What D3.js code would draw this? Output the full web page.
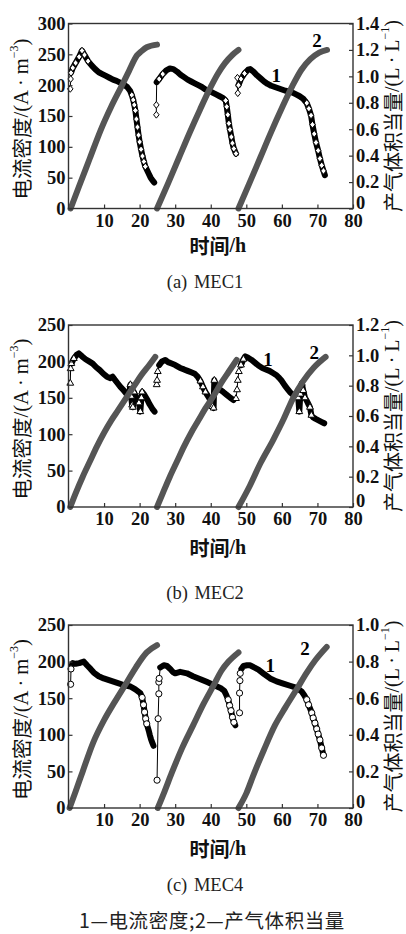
<!DOCTYPE html>
<html><head><meta charset="utf-8">
<script src="https://cdn.jsdelivr.net/npm/d3@7"></script>
<style>body{margin:0;background:#fff}svg{display:block}</style>
</head><body><svg id="c" width="406" height="934"></svg>
<script>
// ---------------- DATA ----------------
const xTicks = [10,20,30,40,50,60,70,80];
const mec1LeftTicks = [0,50,100,150,200,250,300];
const mec1RightTicks = [0,0.2,0.4,0.6,0.8,1.0,1.2,1.4];
const mec2LeftTicks = [0,50,100,150,200,250];
const mec2RightTicks = [0,0.2,0.4,0.6,0.8,1.0,1.2];
const mec4LeftTicks = [0,50,100,150,200,250];
const mec4RightTicks = [0,0.2,0.4,0.6,0.8,1.0];

// current density (A·m^-3), one array of [time h, value] per cycle
const mec1Current = [
 [[0.5,194],[0.6,210],[0.7,220],[1.2,228],[2,236],[3,246],[3.8,256],[4.5,249],[5.5,239],[6.5,232],[7.5,226],[8.5,221],[9.5,218],[10.5,215],[11.5,212],[12.5,209],[13.5,207],[14.5,204],[15.5,201],[16.5,197],[17.3,191],[17.8,184],[18.2,176],[18.5,168],[18.8,159],[19.1,145],[19.4,132],[19.7,119],[20.0,108],[20.4,96],[20.8,85],[21.2,76],[21.6,68],[22.1,62],[22.6,56],[23.1,50],[23.6,46],[24.1,42]],
 [[24.7,152],[24.7,168],[24.8,205],[25.5,210],[26.5,218],[27.5,224],[28.5,227],[29.5,226],[30.5,222],[31.5,217],[32.5,213],[33.5,209],[34.5,206],[35.5,203],[36.5,200],[37.5,197],[38.5,193],[39.5,191],[40.5,188],[41.5,185],[42.5,182],[43.5,179],[44.2,175],[44.5,165],[44.8,152],[45.1,138],[45.4,128],[45.8,116],[46.1,106],[46.5,97],[47.1,89]],
 [[47.5,212],[47.6,187],[47.8,200],[48.5,210],[49.5,219],[50.5,225],[51.1,226],[52,222],[53,216],[54,211],[55,206],[56,202],[57,199],[58,197],[59,195],[60,193],[61,191],[62,190],[63,188],[64,185],[65,182],[66,178],[67,171],[67.6,162],[68.2,151],[68.6,136],[69.1,121],[69.6,107],[70.2,94],[70.7,81],[71.2,70],[71.7,61],[72.1,54]]
];
const mec1Lead = [2,2,2];
const mec2Current = [
 [[0.5,170],[0.6,190],[0.8,197],[1.5,204],[2.3,209],[2.9,211],[3.8,207],[4.8,203],[5.8,200],[6.8,197],[7.8,192],[8.8,188],[9.8,183],[10.8,179],[11.8,177],[12.4,179],[13,175],[13.8,170],[14.6,165],[15.4,161],[16.2,156],[16.8,152],[17.2,160],[17.4,168],[17.6,152],[17.9,140],[18.1,137],[18.4,158],[18.8,153],[19.3,148],[19.8,143],[20.2,131],[20.5,150],[20.7,158],[21.2,155],[21.7,151],[22.2,147],[22.7,142],[23.2,138],[23.7,134],[24.2,131]],
 [[24.8,168],[24.9,174],[25.1,186],[25.5,195],[26.3,200],[27.2,202],[28,199],[29,197],[30,195],[31.4,191],[32.5,189],[33.5,187],[34.5,185],[35.5,183],[36.3,179],[37.1,173],[37.8,165],[38.5,158],[39,154],[39.5,150],[40,145],[40.5,138],[40.8,136],[41,174],[41.3,168],[42,164],[42.7,161],[43.5,158],[44.5,154],[45.5,150],[46.4,147]],
 [[47.1,149],[47.4,161],[47.6,174],[47.9,186],[48.5,195],[49.2,203],[49.7,207],[50.5,205],[51.5,202],[52.5,198],[53.5,194],[54.5,191],[55.5,189],[56.5,187],[57.5,184],[58.5,181],[59.3,177],[60,173],[60.8,167],[61.6,162],[62.4,157],[63.2,154],[64,152],[64.6,150],[64.9,131],[65.2,155],[65.6,170],[66,160],[66.5,150],[67,146],[67.5,141],[67.9,137],[68.3,126],[68.8,123],[69.5,121],[70.3,119],[71.1,117],[71.9,115]]
];
const mec2Lead = [2,3,4];
const mec4Current = [
 [[0.6,169],[0.7,190],[0.8,194],[1.2,198],[2,197],[3,198],[4.3,200],[5.2,195],[6.2,190],[7.1,185],[8.5,180],[9.9,177],[11.8,174],[13.7,171],[15.5,168],[17.4,166],[18.8,162],[20.2,157],[20.7,151],[21.1,141],[21.4,131],[21.7,122],[22,115],[22.3,110],[22.6,105],[22.9,99],[23.2,94],[23.5,90],[23.9,85]],
 [[24.9,38],[25.2,122],[25.4,156],[25.4,172],[25.5,177],[25.8,192],[26.8,195],[27.7,194],[28.6,190],[29.3,186],[30,184],[30.7,185],[31.4,186],[33.3,184],[35,180],[37.1,176],[39,172],[40.8,168],[42.7,164],[43.8,160],[44.4,154],[44.9,148],[45.3,140],[45.7,133],[46.1,124],[46.5,117],[46.9,113]],
 [[48.1,130],[48.1,157],[48.2,174],[48.3,184],[48.6,190],[49.2,194],[50.2,195],[51.1,195],[52.2,192],[53.4,189],[55,183],[56.7,177],[58.5,173],[60.4,170],[62.3,167],[64.2,164],[65.6,159],[66.3,154],[67,148],[67.5,141],[68,135],[68.4,130],[68.8,123],[69.3,116],[69.8,108],[70.2,101],[70.7,93],[71.2,82],[71.7,72]]
];
const mec4Lead = [2,5,4];

// gas volume equivalent (L·L^-1), one array per cycle
const mec1Gas = [
 [[0.6,0],[3,0.17],[6,0.38],[9,0.59],[12,0.77],[15,0.93],[17,1.04],[19.3,1.16],[20.5,1.19],[22,1.22],[24.9,1.24]],
 [[24.9,0],[28,0.19],[31,0.38],[34,0.57],[37,0.75],[40,0.92],[42,1.02],[44,1.1],[46,1.16],[47.8,1.2]],
 [[47.8,0],[51,0.2],[54,0.39],[57,0.58],[60,0.76],[63,0.93],[65.5,1.05],[68,1.13],[70.5,1.18],[72.7,1.2]]
];
const mec2Gas = [
 [[0.5,0],[2,0.09],[4,0.2],[6,0.3],[8,0.4],[10,0.49],[12,0.57],[14,0.64],[16.5,0.73],[18.5,0.8],[20.5,0.87],[22.5,0.93],[24.4,0.99]],
 [[24.9,0],[26.5,0.09],[28.5,0.2],[30.5,0.3],[32.5,0.4],[34.5,0.49],[36.5,0.57],[38.5,0.65],[41,0.74],[43,0.82],[45,0.89],[47.3,0.97]],
 [[47.8,0],[51,0.14],[54,0.29],[57.5,0.44],[60.5,0.58],[63.2,0.72],[66,0.83],[69,0.92],[72.3,0.99]]
];
const mec4Gas = [
 [[0.3,0],[2,0.09],[4,0.2],[7,0.36],[10,0.48],[13,0.58],[16.5,0.69],[19,0.77],[22,0.85],[24.9,0.89]],
 [[25.1,0],[27,0.09],[29,0.19],[32,0.33],[35,0.45],[38,0.57],[40.8,0.67],[43,0.75],[45,0.8],[47.8,0.85]],
 [[47.8,0],[50,0.08],[52,0.18],[55,0.32],[58,0.45],[61,0.55],[64.2,0.65],[67,0.74],[69.5,0.81],[72.6,0.88]]
];

const captions = ['(a) MEC1','(b) MEC2','(c) MEC4'];
const legendText = '1—电流密度;2—产气体积当量';

// ---------------- DRAW ----------------
const svg = d3.select('#c');
const X0 = 68.5, X1 = 353;
const SERIF = '"Liberation Serif","Times New Roman",serif';
const CJK = '"Noto Sans CJK SC","Noto Sans CJK JP",sans-serif';

const diamondType = {draw(ctx, size){const h=Math.sqrt(size)*0.62, w=Math.sqrt(size)*0.5;ctx.moveTo(0,-h);ctx.lineTo(w,0);ctx.lineTo(0,h);ctx.lineTo(-w,0);ctx.closePath();}};
const symbols = {diamond:[diamondType,30], triangle:[d3.symbolTriangle,20], circle:[d3.symbolCircle,30]};

const panels = [
 {top:23.5,bottom:208.5,yMax:300,yTicks:mec1LeftTicks,rMax:1.4,rTicks:mec1RightTicks,cur:mec1Current,lead:mec1Lead,gas:mec1Gas,sym:'diamond',timeY:245,capY:282,lab1:[58.4,216],lab2:[69.9,1.27]},
 {top:325,bottom:507,yMax:250,yTicks:mec2LeftTicks,rMax:1.2,rTicks:mec2RightTicks,cur:mec2Current,lead:mec2Lead,gas:mec2Gas,sym:'triangle',timeY:547,capY:593,lab1:[56.1,203],lab2:[69.1,1.02]},
 {top:625,bottom:808,yMax:250,yTicks:mec4LeftTicks,rMax:1.0,rTicks:mec4RightTicks,cur:mec4Current,lead:mec4Lead,gas:mec4Gas,sym:'circle',timeY:848,capY:885,lab1:[56.7,195],lab2:[66.5,0.87]}
];

panels.forEach((p,pi)=>{
  const x = d3.scaleLinear([0,80],[X0,X1]);
  const y = d3.scaleLinear([0,p.yMax],[p.bottom,p.top]);
  const r = d3.scaleLinear([0,p.rMax],[p.bottom,p.top]);
  const g = svg.append('g');
  const line = d3.line().x(d=>x(d[0])).y(d=>y(d[1]));
  const [stype,ssize] = symbols[p.sym];
  const sym = d3.symbol().type(stype).size(ssize);

  // current density series
  p.cur.forEach((c,k)=>{
    const n = p.lead[k];
    g.append('path').attr('d',line(c)).attr('fill','none').attr('stroke','#000').attr('stroke-width',1);
    g.append('path').attr('d',line(c.slice(n))).attr('fill','none').attr('stroke','#000')
      .attr('stroke-width',6).attr('stroke-linejoin','round').attr('stroke-linecap','round');
    const steep = i => {
      let m = 0;
      if (i-1>=n) m = Math.max(m, Math.abs(y(c[i][1])-y(c[i-1][1])));
      if (i+1<c.length) m = Math.max(m, Math.abs(y(c[i][1])-y(c[i+1][1])));
      return m >= 4.5;
    };
    const marks = c.filter((d,i)=> i<n || steep(i));
    g.selectAll(null).data(marks).join('path')
      .attr('d',sym).attr('transform',d=>`translate(${x(d[0])},${y(d[1])})`)
      .attr('fill','#fff').attr('stroke','#000').attr('stroke-width',1);
  });

  // gas series
  const gline = d3.line().x(d=>x(d[0])).y(d=>r(d[1])).curve(d3.curveMonotoneX);
  p.gas.forEach(c=>{
    g.append('path').attr('d',gline(c)).attr('fill','none').attr('stroke','#555')
      .attr('stroke-width',6).attr('stroke-linecap','round');
  });

  // frame
  g.append('rect').attr('x',X0).attr('y',p.top).attr('width',X1-X0).attr('height',p.bottom-p.top)
    .attr('fill','none').attr('stroke','#333').attr('stroke-width',1.4);

  const styleAxis = a => {
    a.select('.domain').remove();
    a.selectAll('line').attr('stroke','#333').attr('stroke-width',1.2);
    a.selectAll('text').attr('font-family',SERIF).attr('font-size',18.5).attr('font-weight','bold').attr('fill','#111');
  };
  g.append('g').attr('transform',`translate(0,${p.bottom})`)
    .call(d3.axisBottom(x).tickValues(xTicks).tickSizeInner(-4).tickSizeOuter(0).tickPadding(5).tickFormat(d3.format('d')))
    .call(styleAxis);
  g.append('g').attr('transform',`translate(${X0},0)`)
    .call(d3.axisLeft(y).tickValues(p.yTicks).tickSizeInner(-4).tickSizeOuter(0).tickPadding(3).tickFormat(d3.format('d')))
    .call(styleAxis);
  const ra = g.append('g').attr('transform',`translate(${X1},0)`)
    .call(d3.axisRight(r).tickValues(p.rTicks).tickSizeInner(-4).tickSizeOuter(0).tickPadding(3).tickFormat(d=> d===0?'0':d.toFixed(1)))
    .call(styleAxis);
  ra.selectAll('.tick').filter(d=>d===0).select('text').attr('y',-6);

  // series labels
  g.append('text').attr('x',x(p.lab1[0])).attr('y',y(p.lab1[1])).attr('text-anchor','middle').attr('dominant-baseline','central')
    .attr('font-family',SERIF).attr('font-size',19).attr('font-weight','bold').text('1');
  g.append('text').attr('x',x(p.lab2[0])).attr('y',r(p.lab2[1])).attr('text-anchor','middle').attr('dominant-baseline','central')
    .attr('font-family',SERIF).attr('font-size',19).attr('font-weight','bold').text('2');

  // left axis title
  const cy = (p.top+p.bottom)/2;
  const lt = g.append('text').attr('transform',`translate(21,${cy+3}) rotate(-90)`).attr('text-anchor','middle')
    .attr('dominant-baseline','central').attr('font-size',20.5).attr('fill','#111');
  lt.append('tspan').attr('font-family',CJK).text('电流密度');
  lt.append('tspan').attr('font-family',SERIF).text('/(A · m');
  lt.append('tspan').attr('font-family',SERIF).attr('font-size',12).attr('dy',-7).text('−3');
  lt.append('tspan').attr('font-family',SERIF).attr('dy',7).text(')');

  // right axis title
  const rt = g.append('text').attr('transform',`translate(392,${cy}) rotate(-90)`).attr('text-anchor','middle')
    .attr('dominant-baseline','central').attr('font-size',20).attr('fill','#111');
  rt.append('tspan').attr('font-family',CJK).text('产气体积当量');
  rt.append('tspan').attr('font-family',SERIF).text('/(L · L');
  rt.append('tspan').attr('font-family',SERIF).attr('font-size',12).attr('dy',-7).text('−1');
  rt.append('tspan').attr('font-family',SERIF).attr('dy',7).text(')');

  // x axis title
  const xt = g.append('text').attr('x',(X0+X1)/2+7).attr('y',p.timeY).attr('text-anchor','middle')
    .attr('dominant-baseline','central').attr('font-size',20).attr('font-weight','bold').attr('fill','#111');
  xt.append('tspan').attr('font-family',CJK).text('时间');
  xt.append('tspan').attr('font-family',SERIF).text('/h');

  // caption
  svg.append('text').attr('x',205).attr('y',p.capY).attr('text-anchor','middle').attr('dominant-baseline','central')
    .attr('font-family',SERIF).attr('font-size',18.5).attr('fill','#222').attr('word-spacing',2).text(captions[pi]);
});

svg.append('text').attr('x',212).attr('y',919).attr('text-anchor','middle').attr('dominant-baseline','central')
  .attr('font-family',CJK).attr('font-size',19.5).attr('letter-spacing',0.6).attr('fill','#222').text(legendText);
</script></body></html>
